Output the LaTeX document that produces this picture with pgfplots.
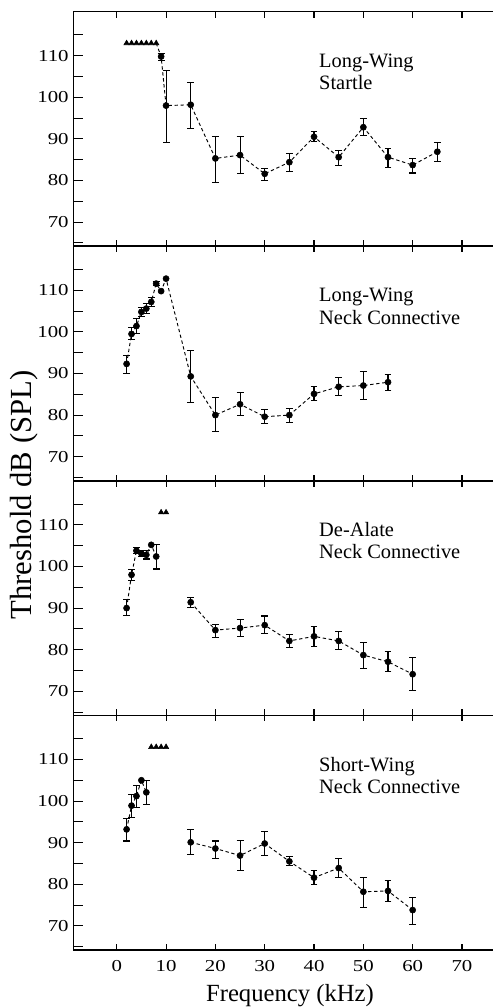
\documentclass[border=0pt]{standalone}
\usepackage{fontspec}
\setmainfont{Liberation Serif}
\newfontfamily\tickfont[FakeStretch=1.25]{Liberation Serif}
\usepackage{pgfplots}
\usepackage{pgfplotstable}
\pgfplotsset{compat=1.18}

% Panel 1: Long-Wing Startle
\pgfplotstableread{
x y ep em
9 109.8 0.8 0.9
10 98.0 8.5 8.8
15 98.2 5.4 5.6
20 85.3 5.3 5.7
25 86.1 4.5 4.5
30 81.6 1.2 1.6
35 84.4 2.1 2.3
40 90.5 1.3 1.2
45 85.6 1.7 2.0
50 92.8 2.0 1.9
55 85.6 2.1 2.4
60 83.7 1.6 1.9
65 86.9 2.3 2.3
}\PA
% Panel 2: Long-Wing Neck Connective
\pgfplotstableread{
x y ep em
2 92.3 2.0 2.3
3 99.5 1.5 1.4
4 101.4 1.8 1.7
5 104.8 1.0 1.0
6 105.6 1.2 1.2
7 107.2 1.0 1.0
8 111.6 0.5 0.5
15 89.3 6.2 6.3
20 80.0 4.2 4.0
25 82.6 2.8 2.6
30 79.6 1.8 1.6
35 80.0 1.5 1.8
40 85.1 1.8 1.7
45 86.8 2.3 2.0
50 87.1 3.4 3.3
55 87.9 1.8 2.0
}\PB
% Panel 3: De-Alate Neck Connective
\pgfplotstableread{
x y ep em
2 90.0 2.0 1.8
3 98.0 1.3 1.4
4 103.8 0.8 0.6
5 103.1 0.8 0.8
6 102.8 1.0 1.0
8 102.4 2.8 3.0
15 91.4 1.2 1.2
20 84.7 1.4 1.8
25 85.2 2.0 2.1
30 85.9 2.2 2.0
35 82.1 1.5 1.6
40 83.2 2.4 2.5
45 82.1 2.2 2.1
50 78.7 3.0 3.2
55 77.1 2.5 2.4
60 74.1 4.0 3.9
}\PC
% Panel 4: Short-Wing Neck Connective
\pgfplotstableread{
x y ep em
2 93.2 2.7 2.8
3 98.9 2.6 2.9
4 101.2 2.5 2.7
6 102.1 2.9 3.0
15 90.1 3.0 3.0
20 88.6 1.8 2.5
25 86.9 3.7 3.6
30 89.8 2.9 2.9
35 85.5 1.2 1.0
40 81.6 1.8 1.6
45 83.9 2.4 2.3
50 78.2 3.5 3.8
55 78.4 2.5 2.6
60 73.8 3.0 3.4
}\PD

\pgfplotsset{
  panel/.style={
    scale only axis, width=314.8pt, height=175.95pt,
    xmin=-8.8, xmax=76.3, ymin=64.2, ymax=120.6,
    axis x line*=box, axis y line*=left,
    axis line style={line width=1.2pt, black},
    xtick={0,10,...,70}, ytick={70,80,...,110},
    minor ytick={65,75,...,115},
    tick align=inside,
    major tick length=7pt, minor tick length=7pt,
    xtick style={/pgfplots/major tick length=4.5pt},
    tick style={line width=0.8pt, black},
    /pgf/number format/assume math mode=true,
    tick label style={font=\fontsize{12.5}{13}\tickfont},
    xticklabel style={yshift=-4.5pt},
    xticklabels={},
    anchor=south west,
  },
  dline/.style={black, line width=0.7pt, dash pattern=on 2.5pt off 2pt},
  errp/.style={black, only marks, mark=*, mark size=2.3pt,
    error bars/.cd, y dir=both, y explicit,
    error bar style={line width=0.8pt, solid},
    error mark options={rotate=90, line width=0.8pt, mark size=2.6pt}},
  dots/.style={black, only marks, mark=*, mark size=2.3pt},
  tris/.style={black, only marks, mark=triangle*, mark size=2.3pt},
}
\tikzset{lab/.style={anchor=base west, font=\fontsize{15.3}{18}\selectfont}}

\begin{document}
\begin{tikzpicture}
\path[use as bounding box] (0,0) rectangle (369.75pt,755.25pt);

% Panel 1
\begin{axis}[panel, at={(55pt,570.6pt)}]
\addplot[dline] coordinates {(8,113) (9,109.8) (10,98.0) (15,98.2) (20,85.3) (25,86.1) (30,81.6) (35,84.4) (40,90.5) (45,85.6) (50,92.8) (55,85.6) (60,83.7) (65,86.9)};
\addplot[tris] coordinates {(2,113) (3,113) (4,113) (5,113) (6,113) (7,113) (8,113)};
\addplot[errp] table[x=x, y=y, y error plus=ep, y error minus=em] {\PA};
\node[lab] at (axis cs:40.1,107.2) {Long-Wing};
\node[lab] at (axis cs:40.1,101.8) {Startle};
\end{axis}

% Panel 2
\begin{axis}[panel, at={(55pt,394.65pt)}]
\addplot[dline] coordinates {(2,92.3) (3,99.5) (4,101.4) (5,104.8) (6,105.6) (7,107.2) (8,111.6) (9,109.8) (10,112.8) (15,89.3) (20,80.0) (25,82.6) (30,79.6) (35,80.0) (40,85.1) (45,86.8) (50,87.1) (55,87.9)};
\addplot[errp] table[x=x, y=y, y error plus=ep, y error minus=em] {\PB};
\addplot[dots] coordinates {(9,109.8) (10,112.8)};
\node[lab] at (axis cs:40.1,107.2) {Long-Wing};
\node[lab] at (axis cs:40.1,101.8) {Neck Connective};
\end{axis}

% Panel 3
\begin{axis}[panel, at={(55pt,218.7pt)}]
\addplot[dline] coordinates {(2,90.0) (3,98.0) (4,103.8) (5,103.1) (6,102.8) (7,105.2) (8,102.4)};
\addplot[dline] coordinates {(15,91.4) (20,84.7) (25,85.2) (30,85.9) (35,82.1) (40,83.2) (45,82.1) (50,78.7) (55,77.1) (60,74.1)};
\addplot[tris] coordinates {(9,113) (10,113)};
\addplot[errp] table[x=x, y=y, y error plus=ep, y error minus=em] {\PC};
\addplot[dots] coordinates {(7,105.2)};
\node[lab] at (axis cs:40.1,107.2) {De-Alate};
\node[lab] at (axis cs:40.1,101.8) {Neck Connective};
\end{axis}

% Panel 4
\begin{axis}[panel, at={(55pt,42.75pt)}, xticklabels={0,10,20,30,40,50,60,70}]
\addplot[dline] coordinates {(2,93.2) (3,98.9) (4,101.2) (5,105.0) (6,102.1)};
\addplot[dline] coordinates {(15,90.1) (20,88.6) (25,86.9) (30,89.8) (35,85.5) (40,81.6) (45,83.9) (50,78.2) (55,78.4) (60,73.8)};
\addplot[tris] coordinates {(7,113) (8,113) (9,113) (10,113)};
\addplot[errp] table[x=x, y=y, y error plus=ep, y error minus=em] {\PD};
\addplot[dots] coordinates {(5,105.0)};
\node[lab] at (axis cs:40.1,107.2) {Short-Wing};
\node[lab] at (axis cs:40.1,101.8) {Neck Connective};
\end{axis}

\node[rotate=90, font=\fontsize{23}{25}\selectfont] at (18pt,384pt) {Threshold dB (SPL)};
\node[anchor=base, font=\fontsize{18.5}{20}\selectfont] at (217.5pt,4pt) {Frequency (kHz)};
\end{tikzpicture}
\end{document}
